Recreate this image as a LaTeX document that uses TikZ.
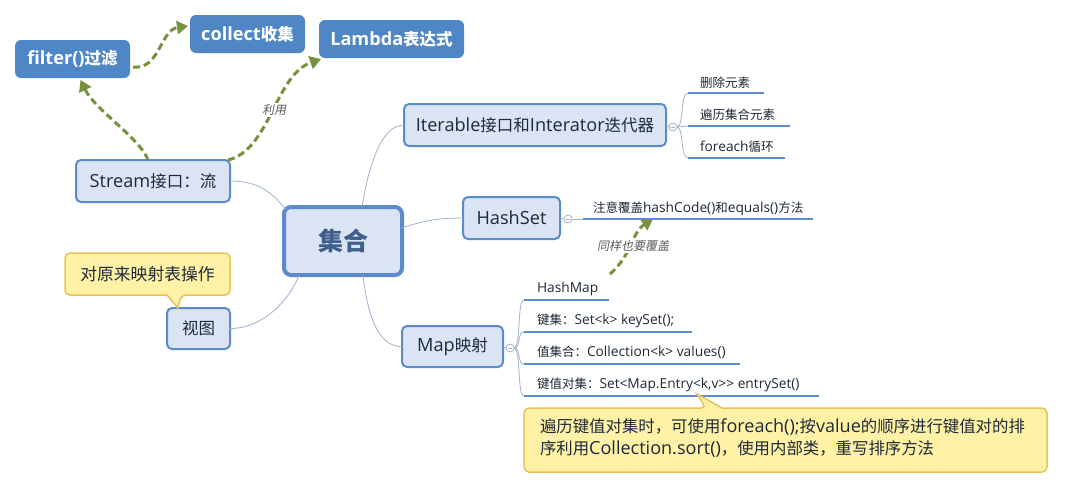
\documentclass[tikz,border=0pt]{standalone}
\usepackage{fontspec}
\setmainfont[Scale=1.1]{Open Sans}
\newfontfamily\latinfont[Scale=1.1]{Open Sans}
\newfontfamily\cjkfont{Noto Sans CJK SC}
\newfontfamily\slfont[FakeSlant=0.2]{Noto Sans CJK SC}
\XeTeXinterchartokenstate=1
\newXeTeXintercharclass\cjkcls
\newcount\cjkcnt
\cjkcnt="4E00
\loop \XeTeXcharclass\cjkcnt=\cjkcls \advance\cjkcnt by 1 \ifnum\cjkcnt<"A000 \repeat
\cjkcnt="3000
\loop \XeTeXcharclass\cjkcnt=\cjkcls \advance\cjkcnt by 1 \ifnum\cjkcnt<"3040 \repeat
\cjkcnt="FF00
\loop \XeTeXcharclass\cjkcnt=\cjkcls \advance\cjkcnt by 1 \ifnum\cjkcnt<"FFF0 \repeat
\XeTeXinterchartoks 0 \cjkcls = {\cjkfont}
\XeTeXinterchartoks 4095 \cjkcls = {\cjkfont}
\XeTeXinterchartoks \cjkcls 0 = {\latinfont}
\XeTeXinterchartoks \cjkcls 4095 = {\latinfont}
\newcommand\lblfont{\XeTeXinterchartokenstate=0\relax\slfont}
\usetikzlibrary{arrows.meta,calc}
\definecolor{topicfill}{HTML}{DAE4F2}
\definecolor{topicdraw}{HTML}{5A8BCB}
\definecolor{darkfill}{HTML}{4F86C6}
\definecolor{linkc}{HTML}{9EB2CF}
\definecolor{leafc}{HTML}{5A8DD3}
\definecolor{greenc}{HTML}{76923C}
\definecolor{notefill}{HTML}{FFF1A6}
\definecolor{notedraw}{HTML}{E8C25A}
\definecolor{textc}{HTML}{1E2A38}
\definecolor{centerc}{HTML}{3E5E8C}
\definecolor{lblc}{HTML}{5A5A5A}
\begin{document}
\begin{tikzpicture}[x=1pt,y=-1pt,
  every node/.style={inner sep=0pt, outer sep=0pt},
  darkbox/.style={fill=darkfill, rounded corners=6pt, text=white, font=\fontsize{16.5}{19}\selectfont\bfseries},
  topic/.style={draw=topicdraw, line width=2pt, fill=topicfill, rounded corners=5pt, text=textc, font=\fontsize{16.5}{19}\selectfont},
  link/.style={draw=linkc, line width=0.8pt},
  leaf/.style={text=textc, font=\fontsize{12.5}{14}\selectfont, anchor=base west},
  leafline/.style={draw=leafc, line width=2.5pt},
  gdash/.style={draw=greenc, line width=3pt, dash pattern=on 7pt off 4pt, -{Triangle[length=11pt,width=13pt]}},
  lbl/.style={text=lblc, fill=white, inner sep=1.5pt, font=\lblfont\fontsize{12}{14}\selectfont},
  togglec/.style={circle, draw=linkc, line width=0.8pt, fill=white, minimum size=8pt},
  notebox/.style={draw=notedraw, line width=1.5pt, fill=notefill}
]
\fill[white] (0,0) rectangle (1065,490);
\useasboundingbox (0,0) rectangle (1065,490);

% main nodes
\node[darkbox, minimum width=115pt, minimum height=38pt] (filter) at (72.5,59) {filter()过滤};
\node[darkbox, minimum width=115pt, minimum height=38pt] (collect) at (247.5,34) {collect收集};
\node[darkbox, minimum width=145pt, minimum height=38pt] (lambda) at (391.5,39) {Lambda表达式};
\node[topic, minimum width=154pt, minimum height=42pt] (stream) at (153,181) {Stream接口：流};
\node[topic, line width=4pt, rounded corners=7pt, minimum width=118pt, minimum height=68pt, text=centerc, font=\fontsize{25}{30}\selectfont\bfseries] (jh) at (343,241) {集合};
\node[topic, minimum width=63pt, minimum height=41pt] (view) at (198.5,328.5) {视图};
\node[topic, minimum width=262pt, minimum height=42pt] (iter) at (535,125) {Iterable接口和Interator迭代器};
\node[topic, minimum width=97pt, minimum height=42pt] (hashset) at (511.5,218) {HashSet};
\node[topic, minimum width=101pt, minimum height=41pt] (map) at (452.5,346.5) {Map映射};

% links from centre
\draw[link] (stream.east) .. controls (258,181) and (272,192) .. ($(jh.north west)+(2,3)$);
\draw[link] ($(jh.north)+(19,0)$) .. controls (368,170) and (380,125) .. (iter.west);
\draw[link] ($(jh.east)+(0,-13)$) .. controls (425,220) and (440,218) .. (hashset.west);
\draw[link] ($(jh.south)+(20,0)$) .. controls (368,320) and (380,347) .. (map.west);
\draw[link] (view.east) .. controls (262,329) and (290,300) .. ($(jh.south west)+(15,0)$);

% Iterable leaves
\node[togglec] (c1) at (673,127) {};
\draw[link] (iter.east) -- (c1.west);
\draw[linkc, line width=0.8pt] ($(c1.center)+(-2,0)$) -- ($(c1.center)+(2,0)$);
\coordinate (u1) at (688,93);  \coordinate (u1e) at (764,93);
\coordinate (u2) at (688,126); \coordinate (u2e) at (790,126);
\coordinate (u3) at (688,158); \coordinate (u3e) at (785,158);
\draw[link] (c1.east) .. controls (684,127) and (680,93) .. (u1);
\draw[link] (c1.east) -- (u2);
\draw[link] (c1.east) .. controls (684,127) and (680,158) .. (u3);
\draw[leafline] (u1) -- (u1e);
\draw[leafline] (u2) -- (u2e);
\draw[leafline] (u3) -- (u3e);
\node[leaf] (l1) at (700,87) {删除元素};
\node[leaf] (l2) at (700,119) {遍历集合元素};
\node[leaf] (l3) at (700,151) {foreach循环};

% HashSet leaf
\node[togglec] (c2) at (568,219) {};
\draw[link] (hashset.east) -- (c2.west);
\draw[linkc, line width=0.8pt] ($(c2.center)+(-2,0)$) -- ($(c2.center)+(2,0)$);
\coordinate (u4) at (583,219); \coordinate (u4e) at (813,219);
\draw[link] (c2.east) -- (u4);
\draw[leafline] (u4) -- (u4e);
\node[leaf] (l4) at (593,212) {注意覆盖hashCode()和equals()方法};

% Map leaves
\node[togglec] (c3) at (510,348) {};
\draw[link] (map.east) -- (c3.west);
\draw[linkc, line width=0.8pt] ($(c3.center)+(-2,0)$) -- ($(c3.center)+(2,0)$);
\coordinate (m1) at (524,300); \coordinate (m1e) at (609,300);
\coordinate (m2) at (524,332); \coordinate (m2e) at (692,332);
\coordinate (m3) at (524,364); \coordinate (m3e) at (740,364);
\coordinate (m4) at (524,396); \coordinate (m4e) at (819,396);
\draw[link] (c3.east) .. controls (521,348) and (517,300) .. (m1);
\draw[link] (c3.east) .. controls (521,348) and (517,332) .. (m2);
\draw[link] (c3.east) .. controls (521,348) and (517,364) .. (m3);
\draw[link] (c3.east) .. controls (521,348) and (517,396) .. (m4);
\draw[leafline] (m1) -- (m1e);
\draw[leafline] (m2) -- (m2e);
\draw[leafline] (m3) -- (m3e);
\draw[leafline] (m4) -- (m4e);
\node[leaf] (k1) at (537,292) {HashMap};
\node[leaf] (k2) at (537,324) {键集：Set<k> keySet();};
\node[leaf] (k3) at (537,356) {值集合：Collection<k> values()};
\node[leaf] (k4) at (537,388) {键值对集：Set<Map.Entry<k,v>> entrySet()};

% callout notes
\draw[notebox, rounded corners=5pt] (65,274) -- (65,253) -- (230,253) -- (230,295) -- (181,295) [sharp corners] -- (178,308) -- (167,295) [rounded corners=5pt] -- (65,295) -- cycle;
\node[text=textc, font=\fontsize{16.8}{19}\selectfont] (n1) at (147.5,274) {对原来映射表操作};

\draw[notebox, rounded corners=5pt] (524,440) -- (524,408) -- (706,408) [sharp corners] -- (697,394) -- (722,408) [rounded corners=5pt] -- (1047,408) -- (1047,472) -- (524,472) -- cycle;
\node[anchor=north west, align=left, text=textc, font=\fontsize{16.4}{22}\selectfont] (n2) at (540,419) {遍历键值对集时，可使用foreach();按value的顺序进行键值对的排\\序利用Collection.sort()，使用内部类，重写排序方法};

% green dashed relations
\draw[gdash] ($(stream.north)+(-5,0)$) .. controls (140,138) and (95,110) .. ($(filter.south)+(8,2)$);
\draw[gdash] ($(filter.east)+(3,8)$) .. controls (160,70) and (160,30) .. ($(collect.west)+(-2,-8)$);
\draw[gdash] ($(stream.north east)+(-2,0)$) .. controls (270,150) and (275,75) .. ($(lambda.south west)+(2,1)$);
\node[lbl] (ly) at (274,110) {利用};
\coordinate (hm) at (610,274);
\draw[gdash] (hm) .. controls (632,255) and (632,232) .. (653,219);
\node[lbl] (ls) at (633,246) {同样也要覆盖};
\end{tikzpicture}
\end{document}
